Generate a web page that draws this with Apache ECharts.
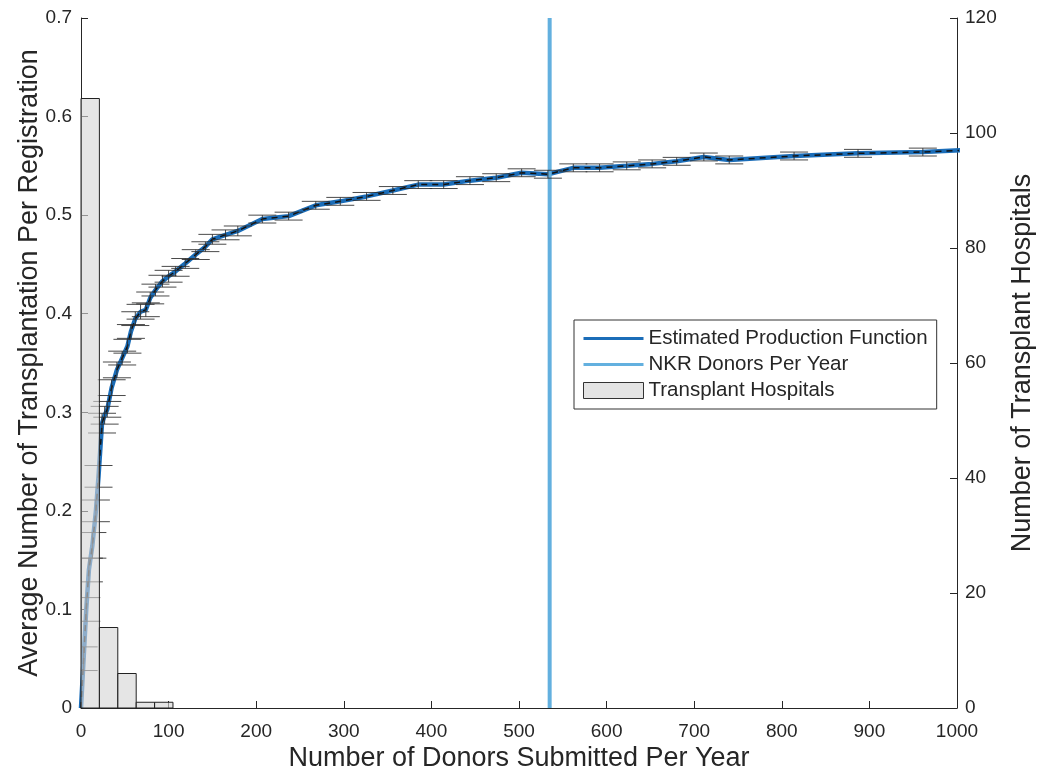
<!DOCTYPE html>
<html>
<head>
<meta charset="utf-8">
<script src="https://cdn.jsdelivr.net/npm/echarts@6/dist/echarts.min.js"></script>
<style>
html,body{margin:0;padding:0;background:#fff;}
#chart{width:1038px;height:774px;}
</style>
</head>
<body>
<div id="chart"></div>
<script>
// ---- data ----
const donors = [0, 3, 6, 9, 13, 17, 20, 24, 27, 30, 35, 41, 47, 53, 57, 62, 68, 74, 79, 85, 93, 100, 108, 119, 131, 142, 150, 165, 179, 207, 237, 268, 296, 326, 356, 385, 414, 444, 474, 503, 533, 562, 592, 623, 652, 680, 711, 740, 814, 887, 961, 1035];
const transplantRate = [0, 0.05, 0.10, 0.14, 0.165, 0.20, 0.235, 0.289, 0.297, 0.303, 0.325, 0.343, 0.355, 0.367, 0.382, 0.395, 0.402, 0.404, 0.416, 0.424, 0.433, 0.438, 0.443, 0.451, 0.460, 0.468, 0.4755, 0.480, 0.484, 0.496, 0.499, 0.510, 0.514, 0.519, 0.525, 0.531, 0.531, 0.535, 0.538, 0.543, 0.5415, 0.548, 0.548, 0.550, 0.552, 0.5546, 0.559, 0.556, 0.560, 0.5627, 0.564, 0.567];
const rateError = [0, 0.012, 0.012, 0.012, 0.013, 0.011, 0.011, 0.010, 0.009, 0.008, 0.008, 0.008, 0.007, 0.007, 0.007, 0.007, 0.0075, 0.007, 0.006, 0.006, 0.006, 0.006, 0.005, 0.005, 0.005, 0.005, 0.005, 0.005, 0.005, 0.004, 0.004, 0.004, 0.004, 0.004, 0.004, 0.004, 0.004, 0.004, 0.004, 0.004, 0.004, 0.004, 0.004, 0.004, 0.004, 0.004, 0.004, 0.004, 0.004, 0.004, 0.004, 0.004];
const binStart = [0, 21, 42, 63, 84];
const binEnd = [21, 42, 63, 84, 105];
const hospitalCounts = [106, 14, 6, 1, 1];
const nkrDonorsPerYear = 535;
const xTicks = [0, 100, 200, 300, 400, 500, 600, 700, 800, 900, 1000];
const leftTicks = [0, 0.1, 0.2, 0.3, 0.4, 0.5, 0.6, 0.7];
const rightTicks = [0, 20, 40, 60, 80, 100, 120];

// ---- build ----
const curve = donors.map((d, i) => [d, transplantRate[i]]);
const errData = donors.map((d, i) => [d, transplantRate[i], rateError[i]]);
const histData = binStart.map((s, i) => [s, binEnd[i], hospitalCounts[i]]);
const nkrLine = [[nkrDonorsPerYear, leftTicks[0]], [nkrDonorsPerYear, leftTicks[leftTicks.length - 1]]];

const FONT = 'Liberation Sans, Arial, Helvetica, sans-serif';
const TXT = '#262626';
const BLUE = '#1b6db8';
const LIGHT = '#63b0df';

const chart = echarts.init(document.getElementById('chart'), null, {renderer: 'canvas'});
chart.setOption({
  animation: false,
  backgroundColor: '#fff',
  grid: {left: 81, right: 81, top: 18, bottom: 66, containLabel: false, outerBoundsMode: 'none'},
  legend: {
    orient: 'vertical',
    left: 574, top: 320,
    backgroundColor: '#fff',
    borderColor: '#333', borderWidth: 1, borderRadius: 0,
    padding: [8, 9, 8, 9],
    itemGap: 5,
    itemWidth: 60, itemHeight: 16,
    textStyle: {fontFamily: FONT, fontSize: 20.5, color: TXT, padding: [0, 0, 0, 0]},
    data: [
      {name: 'Estimated Production Function', icon: 'path://M0,7L60,7L60,10L0,10Z', itemStyle: {color: BLUE}},
      {name: 'NKR Donors Per Year', icon: 'path://M0,7L60,7L60,10L0,10Z', itemStyle: {color: LIGHT}},
      {name: 'Transplant Hospitals', icon: 'rect', itemStyle: {color: '#e4e4e4', borderColor: '#333', borderWidth: 1}}
    ]
  },
  xAxis: {
    type: 'value', min: xTicks[0], max: xTicks[xTicks.length - 1], interval: 100,
    name: 'Number of Donors Submitted Per Year', nameLocation: 'middle', nameGap: 37, nameMoveOverlap: false,
    nameTextStyle: {fontFamily: FONT, fontSize: 27, color: TXT},
    axisLine: {show: true, lineStyle: {color: TXT, width: 1}},
    axisTick: {show: true, inside: true, length: 7, lineStyle: {color: TXT}},
    axisLabel: {fontFamily: FONT, fontSize: 19, color: TXT, margin: 14, formatter: v => String(v)},
    splitLine: {show: false}
  },
  yAxis: [
    {
      type: 'value', position: 'left', min: 0, max: 0.7, interval: 0.1,
      name: 'Average Number of Transplantation Per Registration', nameLocation: 'middle', nameGap: 38, nameRotate: 90, nameMoveOverlap: false,
      nameTextStyle: {fontFamily: FONT, fontSize: 27, color: TXT},
      axisLine: {show: true, lineStyle: {color: TXT, width: 1}},
      axisTick: {show: true, inside: true, length: 7, lineStyle: {color: TXT}},
      axisLabel: {fontFamily: FONT, fontSize: 19, color: TXT, margin: 9,
        formatter: v => v === 0 ? '0' : v.toFixed(1)},
      splitLine: {show: false}
    },
    {
      type: 'value', position: 'right', min: 0, max: 120, interval: 20,
      name: 'Number of Transplant Hospitals', nameLocation: 'middle', nameGap: 52, nameRotate: 90, nameMoveOverlap: false,
      nameTextStyle: {fontFamily: FONT, fontSize: 27, color: TXT},
      axisLine: {show: true, lineStyle: {color: TXT, width: 1}},
      axisTick: {show: true, inside: true, length: 7, lineStyle: {color: TXT}},
      axisLabel: {fontFamily: FONT, fontSize: 19, color: TXT, margin: 8},
      splitLine: {show: false}
    }
  ],
  series: [
    {
      name: 'Estimated Production Function', type: 'line', yAxisIndex: 0,
      data: curve, symbol: 'none', clip: true, z: 2,
      lineStyle: {color: BLUE, width: 4.5}, itemStyle: {color: BLUE}
    },
    {
      name: '_dash', type: 'line', yAxisIndex: 0,
      data: curve, symbol: 'none', clip: true, z: 3,
      lineStyle: {color: '#111', width: 1.5, type: [6, 5]}
    },
    {
      name: '_err', type: 'custom', yAxisIndex: 0, clip: true, z: 4,
      data: errData,
      encode: {x: 0, y: 1},
      renderItem: (params, api) => {
        const x = api.value(0), y = api.value(1), e = api.value(2);
        if (!e) return null;
        const t = api.coord([x, y + e]);
        const b = api.coord([x, y - e]);
        const hw = 14;
        const st = {stroke: '#2a2a2a', lineWidth: 1, opacity: 0.85};
        return {type: 'group', children: [
          {type: 'line', shape: {x1: t[0], y1: t[1], x2: b[0], y2: b[1]}, style: st},
          {type: 'line', shape: {x1: t[0] - hw, y1: t[1], x2: t[0] + hw, y2: t[1]}, style: st},
          {type: 'line', shape: {x1: b[0] - hw, y1: b[1], x2: b[0] + hw, y2: b[1]}, style: st}
        ]};
      }
    },
    {
      name: 'NKR Donors Per Year', type: 'line', yAxisIndex: 0,
      data: nkrLine, symbol: 'none', z: 3,
      lineStyle: {color: LIGHT, width: 4}, itemStyle: {color: LIGHT}
    },
    {
      name: 'Transplant Hospitals', type: 'custom', yAxisIndex: 1, z: 5,
      data: histData,
      encode: {x: [0, 1], y: 2},
      itemStyle: {color: '#e4e4e4'},
      renderItem: (params, api) => {
        const p0 = api.coord([api.value(0), api.value(2)]);
        const p1 = api.coord([api.value(1), 0]);
        return {type: 'rect', shape: {x: p0[0], y: p0[1], width: p1[0] - p0[0], height: p1[1] - p0[1]},
          style: {fill: 'rgba(213,213,213,0.62)', stroke: '#222', lineWidth: 1}};
      }
    }
  ]
});
</script>
</body>
</html>
